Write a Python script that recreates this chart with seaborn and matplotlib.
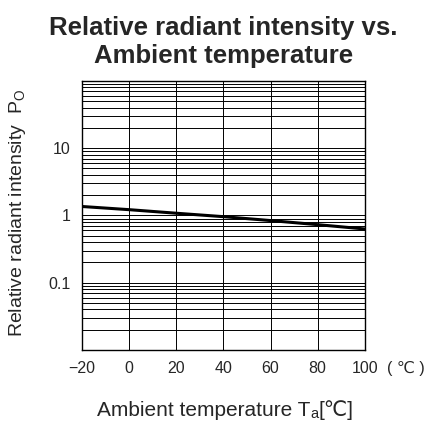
import matplotlib
matplotlib.use('Agg')
import pandas as pd
import matplotlib.pyplot as plt
import seaborn as sns
import numpy as np
from matplotlib.ticker import LogLocator, FixedLocator, FixedFormatter, NullFormatter

# values
temp = [-20, 0, 20, 40, 60, 80, 100]
intensity = [1.36, 1.22, 1.08, 0.96, 0.84, 0.73, 0.63]
x_ticks = [-20, 0, 20, 40, 60, 80, 100]
x_labels = ['\u221220', '0', '20', '40', '60', '80', '100']
y_ticks = [0.1, 1, 10]
y_labels = ['0.1', '1', '10']

sns.set_style('white')
plt.rcParams['font.family'] = ['Liberation Sans', 'DejaVu Sans']
plt.rcParams['mathtext.fontset'] = 'custom'
plt.rcParams['mathtext.rm'] = 'Liberation Sans'

df = pd.DataFrame({'Ta': temp, 'Po': intensity})

fig = plt.figure(figsize=(4.24, 4.25), dpi=100)
ax = fig.add_axes([0.1934, 0.1765, 0.667, 0.633])

sns.lineplot(data=df, x='Ta', y='Po', ax=ax, color='black', linewidth=2.2, zorder=5)

ax.set_yscale('log')
ax.set_ylim(0.01, 100)
ax.set_xlim(-20, 100)

ax.yaxis.set_major_locator(FixedLocator(y_ticks))
ax.yaxis.set_major_formatter(FixedFormatter(y_labels))
ax.yaxis.set_minor_locator(LogLocator(base=10, subs=np.arange(1, 10)))
ax.yaxis.set_minor_formatter(NullFormatter())
ax.xaxis.set_major_locator(FixedLocator(x_ticks))
ax.xaxis.set_major_formatter(FixedFormatter(x_labels))

ax.grid(True, which='both', color='black', linewidth=0.7)
ax.tick_params(axis='both', which='both', length=0, labelsize=11.5, pad=8)
for s in ax.spines.values():
    s.set_color('black')
    s.set_linewidth(1.0)

ax.set_xlabel('')
ax.set_ylabel('Relative radiant intensity  P$_\\mathregular{O}$', fontsize=14)
ax.yaxis.set_label_coords(-0.19, 0.51)
ax.set_title('Relative radiant intensity vs.\nAmbient temperature',
             fontsize=18.5, fontweight='bold', pad=13, linespacing=1.2)

# x label built from pieces so the subscript and the degree sign both render
t1 = fig.text(0.229, 0.02, 'Ambient temperature T', fontsize=15, ha='left', va='baseline')
t2 = ax.annotate('a', xy=(1, 0), xycoords=t1, fontsize=10.5, ha='left', va='bottom',
                 annotation_clip=False)
ax.annotate('[\u2103]', xy=(1, 0), xycoords=(t2, t1), fontsize=15, ha='left', va='bottom',
            annotation_clip=False)

fig.text(0.958, 0.1765 - 0.0445, '( \u2103 )', fontsize=11.5, ha='center', va='center')

fig.savefig('out.png', dpi=100)
